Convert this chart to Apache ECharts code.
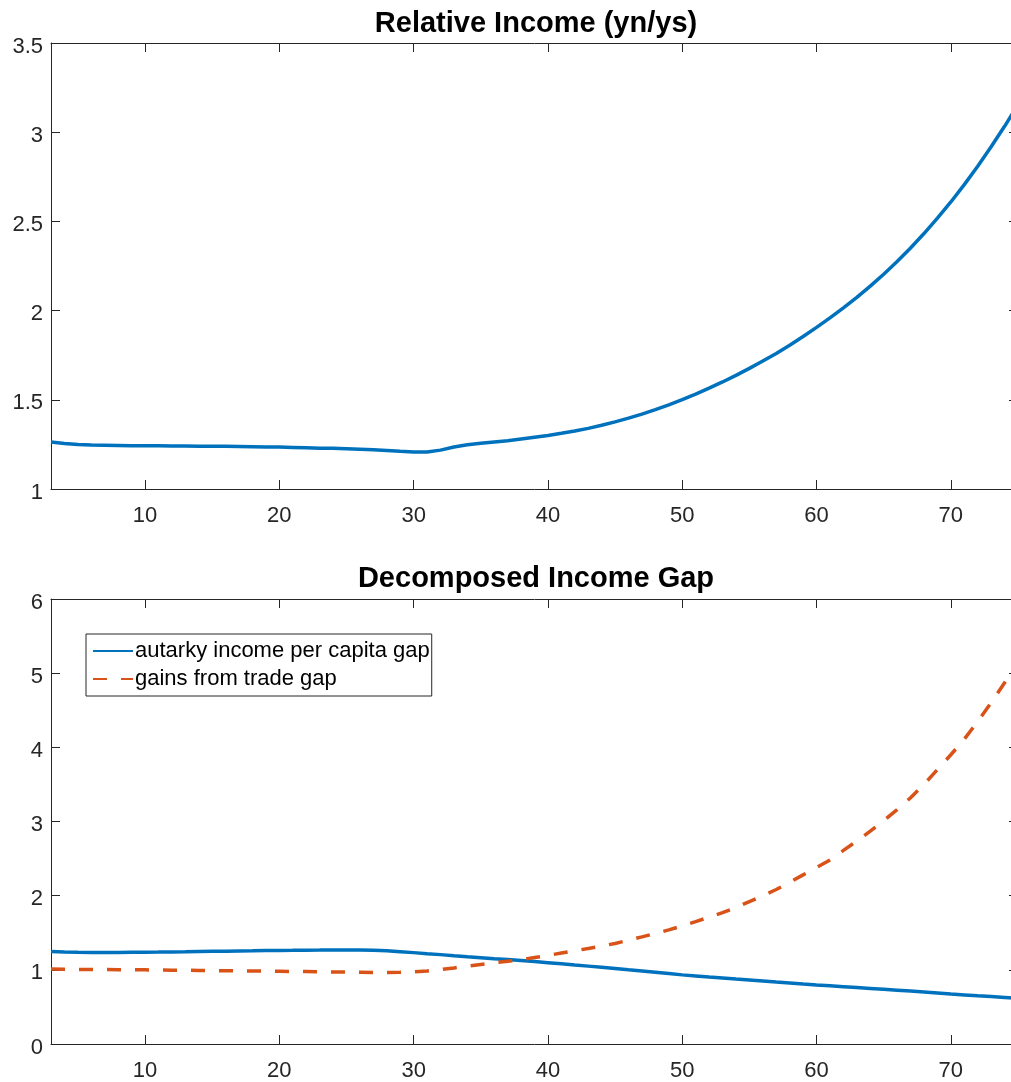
<!DOCTYPE html>
<html>
<head>
<meta charset="utf-8">
<script src="https://cdn.jsdelivr.net/npm/echarts@6/dist/echarts.min.js"></script>
<style>
html,body{margin:0;padding:0;background:#fff;overflow:hidden;width:1011px;height:1082px;}
#chart{width:1030px;height:1082px;}
</style>
</head>
<body>
<div id="chart"></div>
<script>
// ---- data ----
const periods = [3,4,5,6,7,8,9,10,11,12,13,14,15,16,17,18,19,20,21,22,23,24,25,26,27,28,29,30,31,32,33,34,35,36,37,38,39,40,41,42,43,44,45,46,47,48,49,50,51,52,53,54,55,56,57,58,59,60,61,62,63,64,65,66,67,68,69,70,71,72,73,74,75];

const relativeIncome = [1.263,1.255,1.249,1.246,1.245,1.244,1.243,1.242,1.242,1.241,1.241,1.240,1.240,1.239,1.238,1.237,1.236,1.235,1.233,1.231,1.229,1.228,1.226,1.223,1.220,1.216,1.211,1.207,1.207,1.218,1.235,1.248,1.256,1.263,1.270,1.280,1.290,1.300,1.312,1.325,1.340,1.357,1.376,1.397,1.420,1.445,1.472,1.501,1.532,1.565,1.600,1.637,1.676,1.717,1.760,1.806,1.855,1.906,1.959,2.015,2.074,2.137,2.204,2.275,2.351,2.432,2.518,2.609,2.706,2.809,2.918,3.033,3.154];

const autarkyGap = [1.247,1.240,1.236,1.234,1.234,1.235,1.236,1.237,1.239,1.242,1.244,1.247,1.250,1.252,1.255,1.257,1.260,1.262,1.263,1.265,1.266,1.268,1.268,1.268,1.265,1.258,1.245,1.232,1.218,1.205,1.190,1.176,1.163,1.150,1.139,1.127,1.113,1.097,1.081,1.065,1.050,1.035,1.018,1.000,0.983,0.966,0.949,0.932,0.918,0.904,0.891,0.877,0.864,0.851,0.837,0.824,0.810,0.797,0.785,0.773,0.761,0.749,0.737,0.725,0.713,0.700,0.687,0.674,0.662,0.650,0.639,0.628,0.616];

const tradeGap = [1.010,1.008,1.006,1.004,1.003,1.002,1.001,1.000,0.998,0.996,0.994,0.992,0.990,0.988,0.986,0.984,0.982,0.980,0.978,0.976,0.974,0.972,0.969,0.967,0.965,0.964,0.966,0.972,0.985,1.003,1.025,1.050,1.073,1.095,1.117,1.137,1.165,1.195,1.226,1.257,1.288,1.320,1.356,1.400,1.444,1.490,1.538,1.593,1.650,1.710,1.772,1.840,1.920,2.000,2.083,2.180,2.280,2.380,2.480,2.610,2.735,2.870,3.010,3.160,3.320,3.500,3.700,3.900,4.110,4.350,4.600,4.870,5.170];

const xTicks = [10,20,30,40,50,60,70];
const titles = ['Relative Income (yn/ys)', 'Decomposed Income Gap'];
const seriesNames = ['autarky income per capita gap', 'gains from trade gap'];

// ---- build ----
const pairs = (ys) => periods.map((x, i) => [x, ys[i]]);
const AX = '#262626';
const FONT = '"Liberation Sans", Arial, Helvetica, sans-serif';
const TICK_FS = 22;

function xAxisFor(grid, pos, labels) {
  return {
    type: 'value', gridIndex: grid, position: pos, min: 3, max: 75,
    axisLine: { show: true, onZero: false, lineStyle: { color: AX, width: 1 } },
    axisTick: { show: true, inside: true, length: 9, customValues: xTicks, lineStyle: { color: AX, width: 1 } },
    axisLabel: { show: labels, customValues: xTicks, color: AX, fontSize: TICK_FS, fontFamily: FONT, margin: 16 },
    splitLine: { show: false }
  };
}
function yAxisFor(grid, pos, labels, min, max, interval) {
  return {
    type: 'value', gridIndex: grid, position: pos, min: min, max: max, interval: interval,
    axisLine: { show: true, onZero: false, lineStyle: { color: AX, width: 1 } },
    axisTick: { show: true, inside: true, length: 9, lineStyle: { color: AX, width: 1 } },
    axisLabel: {
      show: labels, color: AX, fontSize: TICK_FS, fontFamily: FONT, margin: 8,
      formatter: (v) => '{v|' + v + '}',
      rich: { v: { color: AX, fontSize: TICK_FS, fontFamily: FONT, padding: [7, 0, 0, 0] } }
    },
    splitLine: { show: false }
  };
}

const chart = echarts.init(document.getElementById('chart'), null, { renderer: 'canvas' });
chart.setOption({
  animation: false,
  backgroundColor: '#ffffff',
  title: [
    { text: titles[0], left: 531, top: 4, textAlign: 'center',
      textStyle: { fontSize: 29, fontWeight: 'bold', color: '#000', fontFamily: FONT } },
    { text: titles[1], left: 531, top: 559, textAlign: 'center',
      textStyle: { fontSize: 29, fontWeight: 'bold', color: '#000', fontFamily: FONT } }
  ],
  grid: [
    { left: 51, top: 43, right: 12, height: 446, containLabel: false },
    { left: 51, top: 599, right: 12, height: 446, containLabel: false }
  ],
  xAxis: [
    xAxisFor(0, 'bottom', true), xAxisFor(0, 'top', false),
    xAxisFor(1, 'bottom', true), xAxisFor(1, 'top', false)
  ],
  yAxis: [
    yAxisFor(0, 'left', true, 1, 3.5, 0.5), yAxisFor(0, 'right', false, 1, 3.5, 0.5),
    yAxisFor(1, 'left', true, 0, 6, 1), yAxisFor(1, 'right', false, 0, 6, 1)
  ],
  legend: {
    data: seriesNames,
    orient: 'vertical',
    left: 86, top: 634,
    itemWidth: 40, itemHeight: 14, itemGap: 6,
    padding: [6, 2, 6, 6],
    borderColor: AX, borderWidth: 1, backgroundColor: '#fff',
    itemStyle: { opacity: 0 },
    textStyle: { fontSize: 22, color: '#000', fontFamily: FONT, padding: [0, 0, 0, -3] }
  },
  series: [
    { type: 'line', name: 'relative', xAxisIndex: 0, yAxisIndex: 0, data: pairs(relativeIncome),
      showSymbol: false, symbol: 'none', lineStyle: { color: '#0072BD', width: 3.5 }, itemStyle: { color: '#0072BD' } },
    { type: 'line', name: seriesNames[0], xAxisIndex: 2, yAxisIndex: 2, data: pairs(autarkyGap),
      showSymbol: false, symbol: 'none', lineStyle: { color: '#0072BD', width: 3.5 }, itemStyle: { color: '#0072BD' } },
    { type: 'line', name: seriesNames[1], xAxisIndex: 2, yAxisIndex: 2, data: pairs(tradeGap),
      showSymbol: false, symbol: 'none', lineStyle: { color: '#D95319', width: 3.5, type: [14, 14] }, itemStyle: { color: '#D95319' } }
  ]
});
</script>
</body>
</html>
